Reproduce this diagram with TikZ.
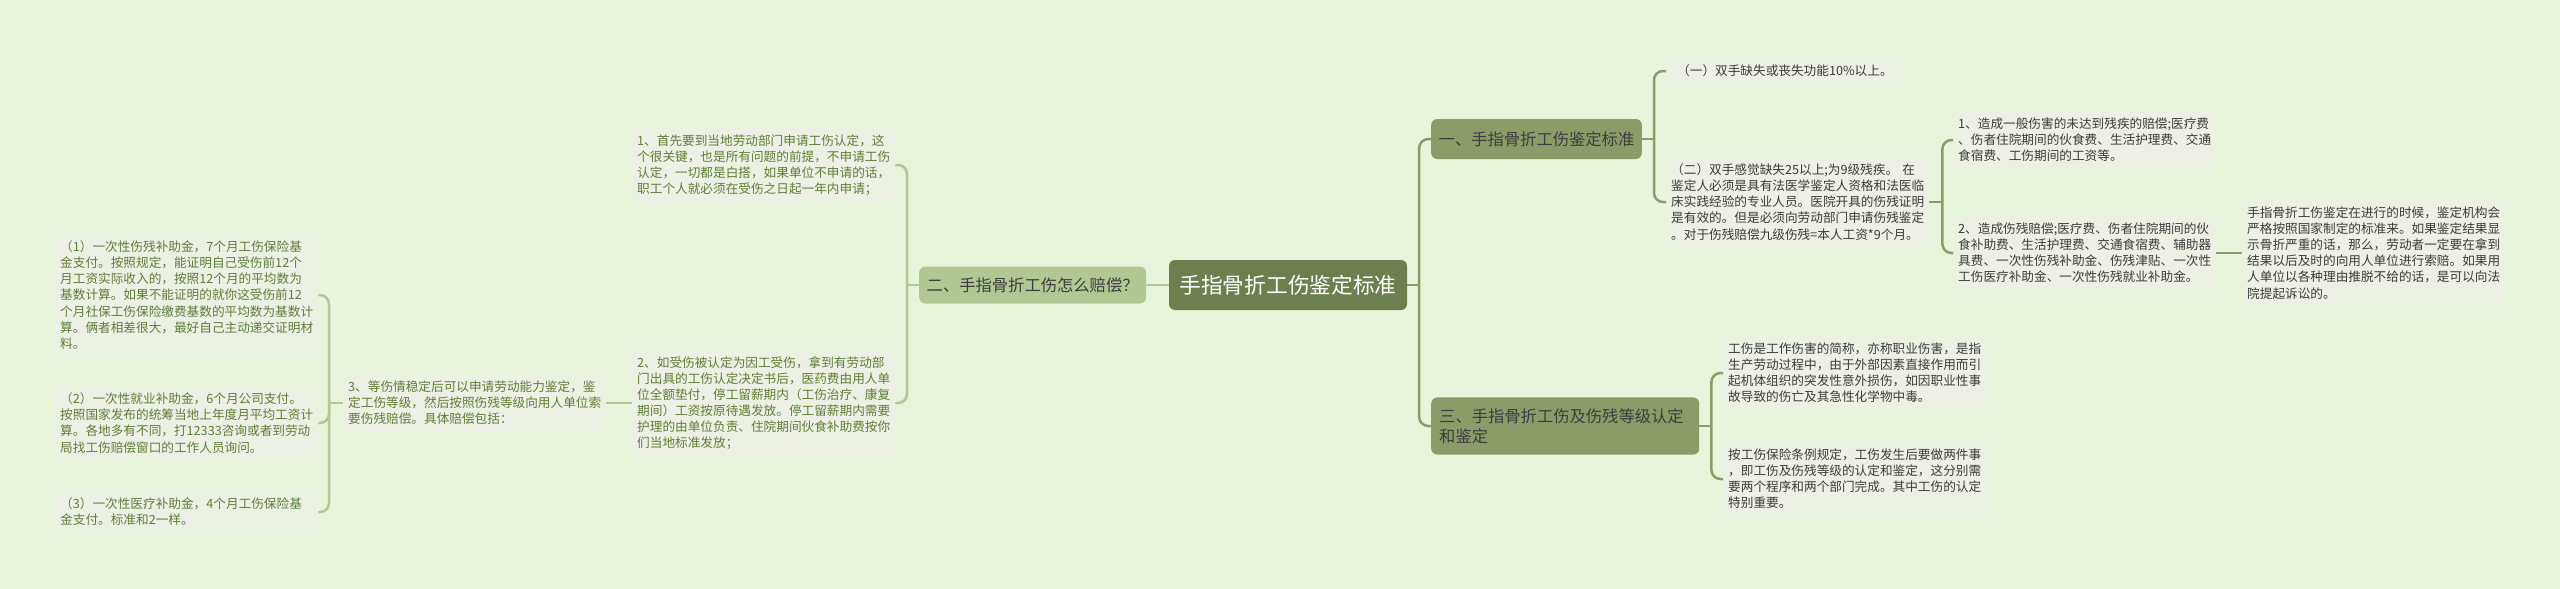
\documentclass[tikz,border=0pt]{standalone}
\usepackage{fontspec}
\setmainfont{Noto Sans CJK SC}
\usepackage{tikz}
\usepackage{xcolor}
\definecolor{bgc}{HTML}{E8F5DA}
\definecolor{leafc}{HTML}{EDF0E4}
\definecolor{rootc}{HTML}{6E7F4F}
\definecolor{lightc}{HTML}{B3C795}
\definecolor{darkc}{HTML}{8C9C69}
\definecolor{gtext}{HTML}{5F7E38}
\definecolor{ktext}{HTML}{3C3C3C}

\begin{document}
\begin{tikzpicture}[x=1pt,y=-1pt,
    leaf/.style={rounded corners=6pt,fill=leafc,text width=253pt,align=left,inner xsep=5pt,inner ysep=6pt,anchor=west,font=\fontsize{12.65}{16.1}\selectfont},
    leafl/.style={leaf,text=gtext},
    leafr/.style={leaf,text=ktext},
    topic/.style={rounded corners=6pt,anchor=west,text=ktext,inner xsep=7.5pt,font=\fontsize{16.3}{20}\selectfont},
    lconn/.style={draw=lightc,line width=2.5pt,rounded corners=9pt},
    rconn/.style={draw=darkc,line width=2.5pt,rounded corners=9pt}]
    \fill [bgc] (0,0) rectangle (2560,589);
    \useasboundingbox (0,0) rectangle (2560,589);

    \node [rounded corners=6pt,fill=rootc,text=white,inner xsep=10.5pt,minimum height=50pt,font=\fontsize{21.7}{26}\selectfont] (R) at (1288,285) {手指骨折工伤鉴定标准};

    % left side
    \node [topic,fill=lightc,minimum height=37pt] (B2) at (919,285) {二、手指骨折工伤怎么赔偿？};
    \node [leafl] (M1) at (632,165) {1、首先要到当地劳动部门申请工伤认定，这\\个很关键，也是所有问题的前提，不申请工伤\\认定，一切都是白搭，如果单位不申请的话，\\职工个人就必须在受伤之日起一年内申请；};
    \node [leafl] (M2) at (632,403) {2、如受伤被认定为因工受伤，拿到有劳动部\\门出具的工伤认定决定书后，医药费由用人单\\位全额垫付，停工留薪期内（工伤治疗、康复\\期间）工资按原待遇发放。停工留薪期内需要\\护理的由单位负责、住院期间伙食补助费按你\\们当地标准发放；};
    \node [leafl] (M3) at (343,403) {3、等伤情稳定后可以申请劳动能力鉴定，鉴\\定工伤等级，然后按照伤残等级向用人单位索\\要伤残赔偿。具体赔偿包括：};
    \node [leafl] (L1) at (55,295) {（1）一次性伤残补助金，7个月工伤保险基\\金支付。按照规定，能证明自己受伤前12个\\月工资实际收入的，按照12个月的平均数为\\基数计算。如果不能证明的就你这受伤前12\\个月社保工伤保险缴费基数的平均数为基数计\\算。俩者相差很大，最好自己主动递交证明材\\料。};
    \node [leafl] (L2) at (55,423) {（2）一次性就业补助金，6个月公司支付。\\按照国家发布的统筹当地上年度月平均工资计\\算。各地多有不同，打12333咨询或者到劳动\\局找工伤赔偿窗口的工作人员询问。};
    \node [leafl] (L3) at (55,512) {（3）一次性医疗补助金，4个月工伤保险基\\金支付。标准和2一样。};

    % right side
    \node [topic,fill=darkc,minimum height=40pt] (B1) at (1431,139) {一、手指骨折工伤鉴定标准};
    \node [topic,fill=darkc,text width=252pt,align=left,inner xsep=8pt,inner ysep=11pt] (B3) at (1431,426) {三、手指骨折工伤及伤残等级认定\\和鉴定};
    \node [leafr,text width=,inner xsep=11pt] (RA) at (1666,71) {（一）双手缺失或丧失功能10\%以上。};
    \node [leafr] (RB) at (1666,202) {（二）双手感觉缺失25以上;为9级残疾。 在\\鉴定人必须是具有法医学鉴定人资格和法医临\\床实践经验的专业人员。医院开具的伤残证明\\是有效的。但是必须向劳动部门申请伤残鉴定\\。对于伤残赔偿九级伤残=本人工资*9个月。};
    \node [leafr] (R1) at (1953,140) {1、造成一般伤害的未达到残疾的赔偿;医疗费\\、伤者住院期间的伙食费、生活护理费、交通\\食宿费、工伤期间的工资等。};
    \node [leafr] (R2) at (1953,253) {2、造成伤残赔偿;医疗费、伤者住院期间的伙\\食补助费、生活护理费、交通食宿费、辅助器\\具费、一次性伤残补助金、伤残津贴、一次性\\工伤医疗补助金、一次性伤残就业补助金。};
    \node [leafr] (R3) at (2242,253) {手指骨折工伤鉴定在进行的时候，鉴定机构会\\严格按照国家制定的标准来。如果鉴定结果显\\示骨折严重的话，那么，劳动者一定要在拿到\\结果以后及时的向用人单位进行索赔。如果用\\人单位以各种理由推脱不给的话，是可以向法\\院提起诉讼的。};
    \node [leafr] (S1) at (1723,373) {工伤是工作伤害的简称，亦称职业伤害，是指\\生产劳动过程中，由于外部因素直接作用而引\\起机体组织的突发性意外损伤，如因职业性事\\故导致的伤亡及其急性化学物中毒。};
    \node [leafr] (S2) at (1723,479) {按工伤保险条例规定，工伤发生后要做两件事\\，即工伤及伤残等级的认定和鉴定，这分别需\\要两个程序和两个部门完成。其中工伤的认定\\特别重要。};

    % connectors
    \coordinate (jB2) at ([xshift=-12pt]B2.west);
    \coordinate (jM3) at ([xshift=-14pt]M3.west);
    \coordinate (jR) at ([xshift=12pt]R.east);
    \coordinate (jB1) at ([xshift=12pt]B1.east);
    \coordinate (jRB) at ([xshift=13pt]RB.east);
    \coordinate (jB3) at ([xshift=12pt]B3.east);
    \draw [lconn] (R.west) -- (B2.east);
    \draw [lconn] (B2.west) -- (jB2);
    \draw [lconn] (jB2) |- (M1.east);
    \draw [lconn] (jB2) |- (M2.east);
    \draw [lconn] (M2.west) -- (M3.east);
    \draw [lconn] (M3.west) -- (jM3);
    \draw [lconn] (jM3) |- (L1.east);
    \draw [lconn] (jM3) |- (L2.east);
    \draw [lconn] (jM3) |- (L3.east);
    \draw [rconn] (R.east) -- (jR);
    \draw [rconn] (jR) |- (B1.west);
    \draw [rconn] (jR) |- (B3.west);
    \draw [rconn] (B1.east) -- (jB1);
    \draw [rconn] (jB1) |- (RA.west);
    \draw [rconn] (jB1) |- (RB.west);
    \draw [rconn] (RB.east) -- (jRB);
    \draw [rconn] (jRB) |- (R1.west);
    \draw [rconn] (jRB) |- (R2.west);
    \draw [rconn] (R2.east) -- (R3.west);
    \draw [rconn] (B3.east) -- (jB3);
    \draw [rconn] (jB3) |- (S1.west);
    \draw [rconn] (jB3) |- (S2.west);
\end{tikzpicture}
\end{document}
